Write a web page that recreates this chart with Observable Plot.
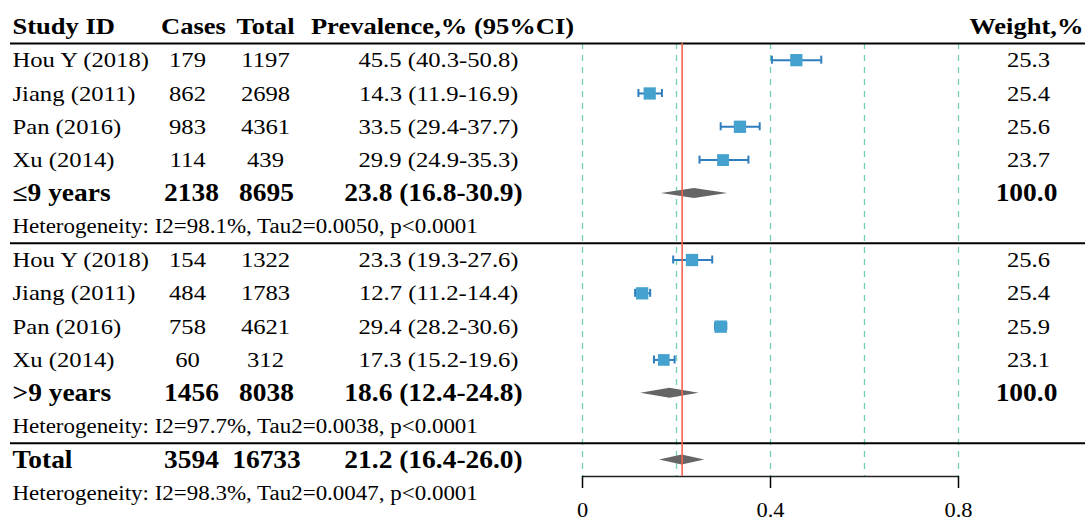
<!DOCTYPE html>
<html>
<head>
<meta charset="utf-8">
<script src="https://cdn.jsdelivr.net/npm/d3@7"></script>
<script src="https://cdn.jsdelivr.net/npm/@observablehq/plot@0.6"></script>
<style>
  html, body { margin: 0; padding: 0; background: #fff; }
  #chart svg { display: block; }
</style>
</head>
<body>
<div id="chart"></div>
<script>
// ---------------- data ----------------
const studies = ["Hou Y (2018)", "Jiang (2011)", "Pan (2016)", "Xu (2014)"];

const casesLe9  = [179, 862, 983, 114];
const totalLe9  = [1197, 2698, 4361, 439];
const prevLe9   = [45.5, 14.3, 33.5, 29.9];
const lowLe9    = [40.3, 11.9, 29.4, 24.9];
const highLe9   = [50.8, 16.9, 37.7, 35.3];
const weightLe9 = [25.3, 25.4, 25.6, 23.7];

const casesGt9  = [154, 484, 758, 60];
const totalGt9  = [1322, 1783, 4621, 312];
const prevGt9   = [23.3, 12.7, 29.4, 17.3];
const lowGt9    = [19.3, 11.2, 28.2, 15.2];
const highGt9   = [27.6, 14.4, 30.6, 19.6];
const weightGt9 = [25.6, 25.4, 25.9, 23.1];

const summaryLabels  = ["\u22649 years", ">9 years", "Total"];
const summaryCases   = [2138, 1456, 3594];
const summaryTotal   = [8695, 8038, 16733];
const summaryPrev    = [23.8, 18.6, 21.2];
const summaryLow     = [16.8, 12.4, 16.4];
const summaryHigh    = [30.9, 24.8, 26.0];
const summaryWeight  = ["100.0", "100.0", ""];

const heterogeneity = [
  "Heterogeneity: I2=98.1%, Tau2=0.0050, p<0.0001",
  "Heterogeneity: I2=97.7%, Tau2=0.0038, p<0.0001",
  "Heterogeneity: I2=98.3%, Tau2=0.0047, p<0.0001"
];

const headers = ["Study ID", "Cases", "Total", "Prevalence,% (95%CI)", "Weight,%"];
const gridTicks = [0, 0.2, 0.4, 0.6, 0.8];
const axisTicks = [0, 0.4, 0.8];
const pooledEstimate = 0.212;

// ---------------- layout (row indices) ----------------
const groups = [
  {cases: casesLe9, total: totalLe9, prev: prevLe9, low: lowLe9, high: highLe9, weight: weightLe9},
  {cases: casesGt9, total: totalGt9, prev: prevGt9, low: lowGt9, high: highGt9, weight: weightGt9}
];
const studyRows = groups.flatMap((g, gi) => studies.map((s, i) => ({
  row: gi * 6 + 1 + i, name: s, cases: g.cases[i], total: g.total[i],
  est: g.prev[i], lo: g.low[i], hi: g.high[i], weight: g.weight[i]
})));
const summaryRowIdx = [5, 11, 13];
const summaryRows = summaryLabels.map((s, i) => ({
  row: summaryRowIdx[i], name: s, cases: summaryCases[i], total: summaryTotal[i],
  est: summaryPrev[i], lo: summaryLow[i], hi: summaryHigh[i], weight: summaryWeight[i], id: i
}));
const hetRows = heterogeneity.map((t, i) => ({row: [6, 12, 14][i], text: t}));
const fmtCI = d => `${d.est.toFixed(1)} (${d.lo.toFixed(1)}-${d.hi.toFixed(1)})`;

const W = 1087, H = 522;
const mL = 582, mR = 129;
const rowPx = 33.31;
const dxOf = px => px - mL;          // offset from left frame edge
const dxR = px => px - (W - mR);     // offset from right frame edge

const diamondH = 5 / rowPx;
const capH = 4 / rowPx;
const diamonds = summaryRows.flatMap(d => [
  {id: d.id, x: d.lo / 100, y1: d.row, y2: d.row},
  {id: d.id, x: d.est / 100, y1: d.row - diamondH, y2: d.row + diamondH},
  {id: d.id, x: d.hi / 100, y1: d.row, y2: d.row}
]);
const caps = studyRows.flatMap(d => [{x: d.lo / 100, row: d.row}, {x: d.hi / 100, row: d.row}]);

const ciColor = "#2e7ebf", sqColor = "#45a2cf", gridColor = "#6fd2b6", refColor = "#f26450";
const serif = "'Liberation Serif', 'Times New Roman', Times, serif";
const regSize = 22, hetSize = 20.5, boldSize = 24.5, headSize = 23.7;
const STRETCH = 1.12;

const txt = (data, px, anchor, opts) => Plot.text(data, {
  y: "row", frameAnchor: "left", textAnchor: anchor, dx: dxOf(px),
  fill: "black", fontFamily: serif, ...opts
});

const chart = Plot.plot({
  width: W, height: H,
  marginLeft: mL, marginRight: mR, marginTop: 0, marginBottom: 46,
  style: {fontFamily: serif, background: "white", overflow: "visible"},
  x: {domain: [0, 0.8], axis: null},
  y: {domain: [0, 14], range: [26.35, 26.35 + rowPx * 14], axis: null},
  r: {type: "sqrt", domain: [0, 26], range: [0, 7]},
  marks: [
    // grid
    Plot.ruleX(gridTicks, {x: d => d, y1: 0.5, y2: 13.5, stroke: gridColor, strokeWidth: 1.3, strokeDasharray: "6,6"}),
    // separators
    Plot.ruleY([0.5, 6.5, 12.5], {y: d => d, insetLeft: -(mL - 10), insetRight: -(mR - 2), stroke: "black", strokeWidth: 2}),
    // axis line
    Plot.ruleY([13.5], {y: d => d, x1: 0, x2: 0.8, stroke: "#222", strokeWidth: 1.5}),
    Plot.axisX(axisTicks, {tickSize: 12, tickPadding: 14, fontSize: 20, fontFamily: serif, strokeWidth: 1.5, tickFormat: d => d === 0 ? "0" : String(d), label: null}),
    // CIs
    Plot.ruleY(studyRows, {y: "row", x1: d => d.lo / 100, x2: d => d.hi / 100, stroke: ciColor, strokeWidth: 2}),
    Plot.ruleX(caps, {x: "x", y1: d => d.row - capH, y2: d => d.row + capH, stroke: ciColor, strokeWidth: 2}),
    Plot.dot(studyRows, {x: d => d.est / 100, y: "row", r: "weight", symbol: "square", fill: sqColor}),
    // diamonds
    Plot.areaY(diamonds, {x: "x", y1: "y1", y2: "y2", z: "id", fill: "#656565", curve: "linear"}),
    // pooled line
    Plot.ruleX([pooledEstimate], {x: d => d, y1: 0.5, y2: 13.5, stroke: refColor, strokeWidth: 1.6}),
    // header
    txt([{row: 0, t: headers[0]}], 12, "start", {text: "t", fontSize: headSize, fontWeight: "bold"}),
    txt([{row: 0, t: headers[1]}], 193, "middle", {text: "t", fontSize: headSize, fontWeight: "bold"}),
    txt([{row: 0, t: headers[2]}], 265, "middle", {text: "t", fontSize: headSize, fontWeight: "bold"}),
    txt([{row: 0, t: headers[3]}], 442, "middle", {text: "t", fontSize: headSize, fontWeight: "bold"}),
    txt([{row: 0, t: headers[4]}], 1083, "end", {text: "t", fontSize: headSize, fontWeight: "bold"}),
    // study rows
    txt(studyRows, 12, "start", {text: "name", fontSize: regSize}),
    txt(studyRows, 187, "middle", {text: d => String(d.cases), fontSize: regSize}),
    txt(studyRows, 265, "middle", {text: d => String(d.total), fontSize: regSize}),
    txt(studyRows, 438, "middle", {text: fmtCI, fontSize: regSize}),
    txt(studyRows, 1028, "middle", {text: d => d.weight.toFixed(1), fontSize: regSize}),
    // summary rows
    txt(summaryRows, 12, "start", {text: "name", fontSize: boldSize, fontWeight: "bold"}),
    txt(summaryRows, 191, "middle", {text: d => String(d.cases), fontSize: boldSize, fontWeight: "bold"}),
    txt(summaryRows, 266, "middle", {text: d => String(d.total), fontSize: boldSize, fontWeight: "bold"}),
    txt(summaryRows, 433, "middle", {text: fmtCI, fontSize: boldSize, fontWeight: "bold"}),
    txt(summaryRows, 1026, "middle", {text: "weight", fontSize: boldSize, fontWeight: "bold"}),
    // heterogeneity
    txt(hetRows, 12, "start", {text: "text", fontSize: hetSize})
  ]
});

document.getElementById("chart").appendChild(chart);
// the reference typesetting is slightly wide: stretch glyphs horizontally
chart.querySelectorAll("text").forEach(t => {
  const L = t.getComputedTextLength();
  if (L > 0) {
    t.setAttribute("textLength", (L * STRETCH).toFixed(2));
    t.setAttribute("lengthAdjust", "spacingAndGlyphs");
  }
});
</script>
</body>
</html>
